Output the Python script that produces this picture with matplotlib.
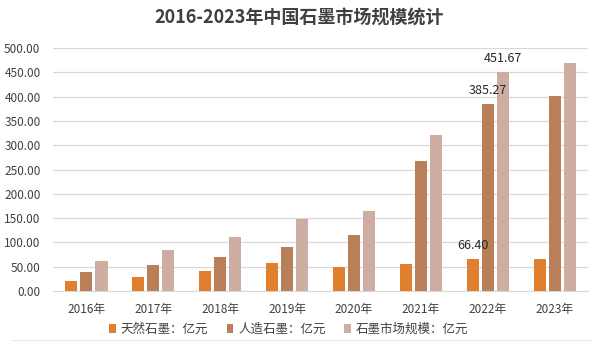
import numpy as np
import matplotlib
matplotlib.use("Agg")
import matplotlib.pyplot as plt
from matplotlib.lines import Line2D

plt.rcParams["font.family"] = ["Noto Sans CJK SC", "DejaVu Sans"]

years = ["2016年", "2017年", "2018年", "2019年", "2020年", "2021年", "2022年", "2023年"]
natural = [21.0, 29.0, 41.5, 58.0, 50.0, 55.0, 66.40, 65.0]
synthetic = [40.0, 54.0, 69.0, 90.0, 114.5, 267.0, 385.27, 401.0]
market = [62.5, 85.0, 112.0, 148.0, 164.5, 322.0, 451.67, 468.5]

series_names = ["天然石墨：亿元", "人造石墨：亿元", "石墨市场规模：亿元"]
colors = ["#E0802F", "#B97F59", "#CEADA3"]
text_color = "#404040"

fig = plt.figure(figsize=(5.99, 3.46), dpi=100)
ax = fig.add_axes([0.0885, 0.159, 0.8935, 0.702])

x = np.arange(len(years))
width = 0.18
offsets = [-0.225, 0.0, 0.225]
for vals, off, col, name in zip([natural, synthetic, market], offsets, colors, series_names):
    ax.bar(x + off, vals, width, color=col, label=name, zorder=3)

# value labels on the 2022 group
idx = 6
for vals, off in zip([natural, synthetic, market], offsets):
    ax.annotate(f"{vals[idx]:.2f}", (x[idx] + off, vals[idx]), xytext=(0, 5),
                textcoords="offset points", ha="center", va="bottom",
                fontsize=9, fontweight="medium", color="#262626")

ax.set_xlim(-0.5, len(years) - 0.5)
ax.set_ylim(0, 500)
ax.set_yticks(np.arange(0, 501, 50))
ax.set_yticklabels([f"{v:.2f}" for v in np.arange(0, 501, 50)])
ax.set_xticks(x)
ax.set_xticklabels(years)
ax.tick_params(axis="both", length=0, labelsize=8.5, colors=text_color)
ax.tick_params(axis="x", pad=9)
ax.tick_params(axis="y", pad=9)
ax.grid(axis="y", color="#D9D9D9", linewidth=0.9, zorder=0)
for s in ["top", "right", "left"]:
    ax.spines[s].set_visible(False)
ax.spines["bottom"].set_color("#D9D9D9")

fig.text(0.5, 0.948, "2016-2023年中国石墨市场规模统计", ha="center", va="center",
         fontsize=13, fontweight="bold", color=text_color)

fig.legend(loc="center", bbox_to_anchor=(0.482, 0.047), ncol=3, frameon=False,
           fontsize=9, handlelength=0.5, handleheight=0.7, handletextpad=0.4,
           columnspacing=1.5, labelcolor=text_color)

fig.add_artist(Line2D([0.02, 0.985], [0.017, 0.017], color="#E6E6E6", linewidth=0.8))

fig.savefig("out.png", dpi=100)
